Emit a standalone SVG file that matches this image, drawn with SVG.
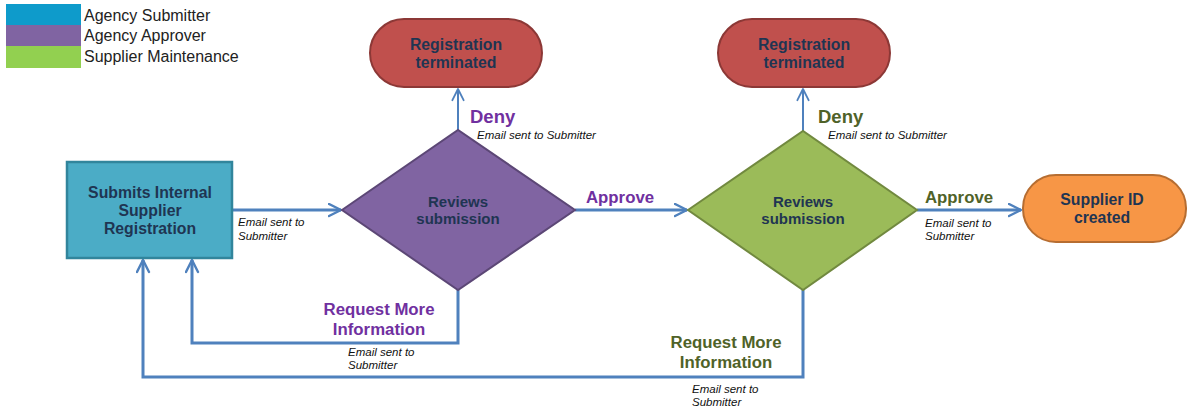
<svg xmlns="http://www.w3.org/2000/svg" width="1188" height="414" viewBox="0 0 1188 414">
<style>
.node-text{font-family:"Liberation Sans",Arial,sans-serif;font-weight:bold;font-size:15.8px;fill:#1F3552;text-anchor:middle}
.dia-text{font-size:15px}
.legend{font-family:"Liberation Sans",Arial,sans-serif;font-size:16px;fill:#222}
.email{font-family:"Liberation Sans",Arial,sans-serif;font-style:italic;font-size:11.5px;fill:#111}
.lbl{font-family:"Liberation Sans",Arial,sans-serif;font-weight:bold;font-size:16.8px}
.deny{font-size:18.5px}
.purple{fill:#7030A0}
.green{fill:#4F6228}
.conn{fill:none;stroke:#4F81BD;stroke-width:3}
.thin{stroke-width:2}
</style>
<defs>
<marker id="arr" viewBox="0 0 10 10" refX="9" refY="5" markerWidth="5" markerHeight="5" orient="auto" markerUnits="strokeWidth">
<path d="M1,1 L9,5 L1,9" fill="none" stroke="#4F81BD" stroke-width="1.6" stroke-linecap="round" stroke-linejoin="round"/>
</marker>
<marker id="arrThin" viewBox="0 0 10 10" refX="9" refY="5" markerWidth="7" markerHeight="7" orient="auto" markerUnits="strokeWidth">
<path d="M1,1 L9,5 L1,9" fill="none" stroke="#4F81BD" stroke-width="1.3" stroke-linecap="round" stroke-linejoin="round"/>
</marker>
</defs>
<rect width="1188" height="414" fill="#fff"/>
<g id="legend">
<rect x="6" y="4" width="75" height="21" fill="#0E9BCB"/>
<rect x="6" y="25" width="75" height="21" fill="#8064A2"/>
<rect x="6" y="46" width="75" height="22" fill="#92D050"/>
<text class="legend" x="84" y="21">Agency Submitter</text>
<text class="legend" x="84" y="41">Agency Approver</text>
<text class="legend" x="84" y="62">Supplier Maintenance</text>
</g>
<g id="connectors">
<path class="conn" d="M232,210 L341,210" marker-end="url(#arr)"/>
<path class="conn" d="M575,210 L687,210" marker-end="url(#arr)"/>
<path class="conn" d="M917,210 L1021,210" marker-end="url(#arr)"/>
<path class="conn thin" d="M458,130 L458,89" marker-end="url(#arrThin)"/>
<path class="conn thin" d="M803,131 L803,89" marker-end="url(#arrThin)"/>
<path class="conn" d="M458,290 L458,343 L192,343 L192,260" marker-end="url(#arr)"/>
<path class="conn" d="M803,290 L803,377 L143,377 L143,260" marker-end="url(#arr)"/>
<text class="email" x="238" y="226">Email sent to</text>
<text class="email" x="238" y="240">Submitter</text>
<text class="lbl deny purple" x="470" y="123">Deny</text>
<text class="email" x="477" y="139">Email sent to Submitter</text>
<text class="lbl deny green" x="818" y="123">Deny</text>
<text class="email" x="828" y="139">Email sent to Submitter</text>
<text class="lbl purple" x="586" y="203">Approve</text>
<text class="lbl green" x="925" y="203">Approve</text>
<text class="email" x="925" y="227">Email sent to</text>
<text class="email" x="925" y="240">Submitter</text>
<text class="lbl purple" x="379" y="315" text-anchor="middle">Request More</text>
<text class="lbl purple" x="379" y="335" text-anchor="middle">Information</text>
<text class="email" x="348" y="356">Email sent to</text>
<text class="email" x="348" y="369">Submitter</text>
<text class="lbl green" x="726" y="348" text-anchor="middle">Request More</text>
<text class="lbl green" x="726" y="368" text-anchor="middle">Information</text>
<text class="email" x="692" y="393">Email sent to</text>
<text class="email" x="692" y="406">Submitter</text>
</g>
<g id="submit">
<rect x="67" y="162" width="165" height="96" fill="#4BACC6" stroke="#31859C" stroke-width="2.5"/>
<text class="node-text" x="150" y="198">Submits Internal</text>
<text class="node-text" x="150" y="216">Supplier</text>
<text class="node-text" x="150" y="234">Registration</text>
</g>
<g id="review1">
<polygon points="342,210 458,130 575,210 458,290" fill="#8064A2" stroke="#5C4776" stroke-width="2"/>
<text class="node-text dia-text" x="458" y="207">Reviews</text>
<text class="node-text dia-text" x="458" y="224">submission</text>
</g>
<g id="review2">
<polygon points="688,210 803,131 917,210 803,290" fill="#9BBB59" stroke="#71893F" stroke-width="2"/>
<text class="node-text dia-text" x="803" y="207">Reviews</text>
<text class="node-text dia-text" x="803" y="224">submission</text>
</g>
<g id="term1">
<rect x="370" y="19" width="172" height="68" rx="34" fill="#C0504D" stroke="#8C3836" stroke-width="2"/>
<text class="node-text" x="456" y="50">Registration</text>
<text class="node-text" x="456" y="68">terminated</text>
</g>
<g id="term2">
<rect x="718" y="19" width="172" height="68" rx="34" fill="#C0504D" stroke="#8C3836" stroke-width="2"/>
<text class="node-text" x="804" y="50">Registration</text>
<text class="node-text" x="804" y="68">terminated</text>
</g>
<g id="supplier">
<rect x="1023" y="175" width="163" height="67" rx="33" fill="#F79646" stroke="#B66D31" stroke-width="2"/>
<text class="node-text" x="1102" y="205">Supplier ID</text>
<text class="node-text" x="1102" y="223">created</text>
</g>
</svg>
